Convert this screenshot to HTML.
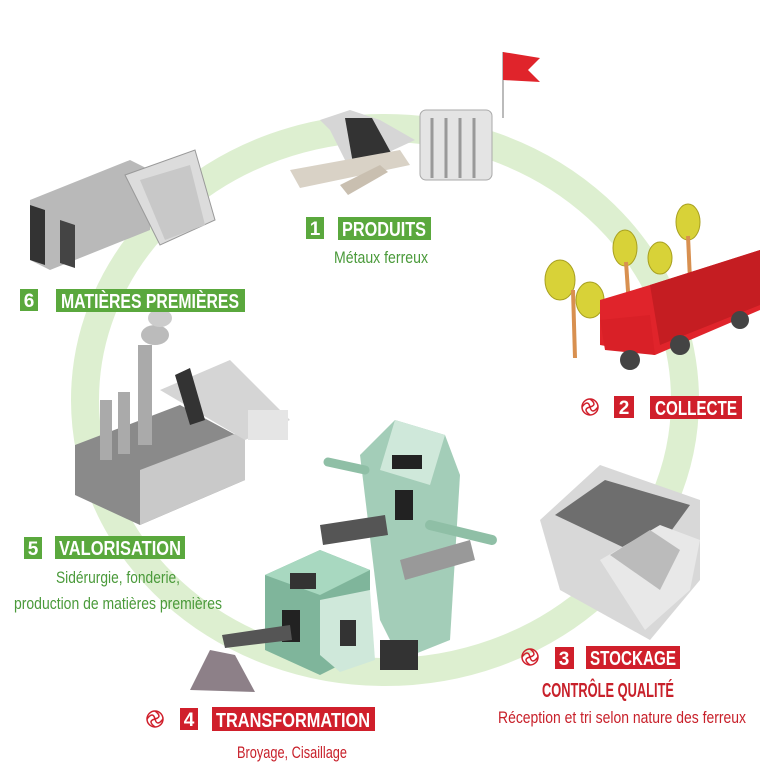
<!DOCTYPE html>
<html><head><meta charset="utf-8"><style>
html,body{margin:0;padding:0;background:#fff;}
svg{display:block}
text{font-family:"Liberation Sans",sans-serif}
</style></head><body>
<svg width="768" height="768" viewBox="0 0 768 768" xmlns="http://www.w3.org/2000/svg">
<rect width="768" height="768" fill="#fff"/>
<!-- ring -->
<ellipse cx="385" cy="400" rx="300" ry="272" fill="none" stroke="#ddefd0" stroke-width="28"/>
<rect x="250" y="0" width="260" height="112" fill="#fff"/>

<!-- flag -->
<line x1="503" y1="52" x2="503" y2="118" stroke="#bbb" stroke-width="2"/>
<path d="M503 52 L540 58 L528 70 L540 82 L503 80 Z" fill="#e0242b"/>

<!-- products illustration -->
<path d="M320 120 L350 110 L380 120 L415 140 L350 170 L330 130 Z" fill="#d6d6d6"/>
<path d="M345 118 L372 118 L395 160 L355 175 Z" fill="#333"/>
<path d="M290 170 L400 150 L410 165 L300 188 Z" fill="#d9d2c6"/>
<path d="M340 185 L380 165 L388 172 L348 195 Z" fill="#c9bfb0"/>
<rect x="420" y="110" width="72" height="70" rx="6" fill="#e4e4e4" stroke="#aaa"/>
<g stroke="#999" stroke-width="3"><line x1="432" y1="118" x2="432" y2="178"/><line x1="446" y1="118" x2="446" y2="178"/><line x1="460" y1="118" x2="460" y2="178"/><line x1="474" y1="118" x2="474" y2="178"/></g>

<!-- beams (6) -->
<path d="M30 200 L130 160 L150 170 L150 230 L50 270 L30 260 Z" fill="#b9b9b9"/>
<path d="M30 205 L45 210 L45 265 L30 260 Z" fill="#333"/>
<path d="M60 220 L75 225 L75 268 L60 263 Z" fill="#444"/>
<path d="M125 175 L195 150 L215 220 L160 245 Z" fill="#dcdcdc" stroke="#999"/>
<path d="M140 180 L190 165 L205 225 L165 240 Z" fill="#c8c8c8"/>

<!-- truck + trees -->
<g fill="#d8d238" stroke="#a8a020"><ellipse cx="560" cy="280" rx="15" ry="20"/><ellipse cx="590" cy="300" rx="14" ry="18"/><ellipse cx="625" cy="248" rx="12" ry="18"/><ellipse cx="660" cy="258" rx="12" ry="16"/><ellipse cx="688" cy="222" rx="12" ry="18"/></g>
<g stroke="#d89050" stroke-width="4"><line x1="573" y1="290" x2="575" y2="358"/><line x1="626" y1="262" x2="630" y2="320"/><line x1="688" y1="236" x2="690" y2="280"/></g>
<path d="M600 300 L650 285 L760 250 L760 310 L655 355 L600 345 Z" fill="#e0242b"/>
<path d="M650 285 L760 250 L760 305 L660 345 Z" fill="#c51d22"/>
<path d="M600 320 L650 315 L655 355 L605 350 Z" fill="#d92027"/>
<circle cx="630" cy="360" r="10" fill="#444"/><circle cx="680" cy="345" r="10" fill="#444"/><circle cx="740" cy="320" r="9" fill="#444"/>

<!-- factory 5 -->
<path d="M75 445 L180 405 L245 440 L245 480 L140 525 L75 495 Z" fill="#8a8a8a"/>
<path d="M140 470 L245 430 L245 480 L140 525 Z" fill="#c9c9c9"/>
<rect x="100" y="400" width="12" height="60" fill="#aaa"/><rect x="118" y="392" width="12" height="62" fill="#aaa"/><rect x="138" y="345" width="14" height="100" fill="#aaa"/>
<ellipse cx="155" cy="335" rx="14" ry="10" fill="#bbb"/><ellipse cx="160" cy="318" rx="12" ry="9" fill="#ccc"/>
<path d="M160 390 L230 360 L290 420 L245 440 Z" fill="#d5d5d5"/>
<path d="M175 375 L190 368 L205 420 L190 425 Z" fill="#333"/>
<rect x="248" y="410" width="40" height="30" fill="#e5e5e5"/>

<!-- storage 3 -->
<path d="M540 520 L600 465 L700 500 L700 580 L650 640 L560 590 Z" fill="#d8d8d8"/>
<path d="M555 515 L605 480 L690 505 L650 560 Z" fill="#6e6e6e"/>
<path d="M600 560 L660 525 L700 540 L690 590 L645 630 Z" fill="#e8e8e8"/>
<path d="M610 555 L650 530 L680 550 L660 590 Z" fill="#bbb"/>

<!-- machine 4 -->
<path d="M360 455 L395 420 L445 435 L460 475 L450 640 L400 660 L380 620 Z" fill="#a3cdb8"/>
<path d="M395 420 L445 435 L430 485 L380 470 Z" fill="#cfe8da"/>
<rect x="392" y="455" width="30" height="14" fill="#222"/>
<rect x="395" y="490" width="18" height="30" fill="#222"/>
<path d="M265 575 L320 550 L370 570 L370 650 L320 675 L265 650 Z" fill="#7fb59b"/>
<path d="M265 575 L320 550 L370 570 L320 595 Z" fill="#a8d8c0"/>
<rect x="290" y="573" width="26" height="16" fill="#333"/>
<rect x="282" y="610" width="18" height="32" fill="#222"/>
<path d="M320 600 L370 590 L375 660 L340 672 L320 655 Z" fill="#cfe8da"/>
<rect x="340" y="620" width="16" height="26" fill="#333"/>
<rect x="380" y="640" width="38" height="30" fill="#333"/>
<path d="M320 525 L385 515 L388 535 L323 545 Z" fill="#555"/>
<path d="M222 635 L290 625 L292 640 L225 648 Z" fill="#555"/>
<line x1="430" y1="525" x2="492" y2="540" stroke="#8fbfa6" stroke-width="10" stroke-linecap="round"/>
<line x1="328" y1="462" x2="365" y2="470" stroke="#8fbfa6" stroke-width="9" stroke-linecap="round"/>
<path d="M190 690 L210 650 L235 655 L255 692 Z" fill="#8d8088"/>
<path d="M400 560 L470 540 L475 560 L405 580 Z" fill="#999"/>

<!-- labels -->
<g font-weight="bold">
<rect x="306" y="217" width="18" height="22" fill="#5aa83d"/>
<text x="315" y="235" fill="#fff" font-size="19" text-anchor="middle">1</text>
<rect x="338" y="217" width="93" height="23" fill="#5aa83d"/>
<text x="384" y="236" fill="#fff" font-size="20" text-anchor="middle" textLength="84" lengthAdjust="spacingAndGlyphs">PRODUITS</text>
<rect x="20" y="289" width="18" height="22" fill="#5aa83d"/>
<text x="29" y="307" fill="#fff" font-size="19" text-anchor="middle">6</text>
<rect x="56" y="289" width="189" height="23" fill="#5aa83d"/>
<text x="150" y="308" fill="#fff" font-size="20" text-anchor="middle" textLength="178" lengthAdjust="spacingAndGlyphs">MATIÈRES PREMIÈRES</text>
<rect x="24" y="537" width="18" height="22" fill="#5aa83d"/>
<text x="33" y="555" fill="#fff" font-size="19" text-anchor="middle">5</text>
<rect x="55" y="536" width="130" height="23" fill="#5aa83d"/>
<text x="120" y="555" fill="#fff" font-size="20" text-anchor="middle" textLength="122" lengthAdjust="spacingAndGlyphs">VALORISATION</text>
<rect x="614" y="396" width="20" height="22" fill="#d01f2b"/>
<text x="624" y="414" fill="#fff" font-size="19" text-anchor="middle">2</text>
<rect x="650" y="396" width="92" height="23" fill="#d01f2b"/>
<text x="696" y="415" fill="#fff" font-size="20" text-anchor="middle" textLength="82" lengthAdjust="spacingAndGlyphs">COLLECTE</text>
<rect x="555" y="647" width="19" height="22" fill="#d01f2b"/>
<text x="564" y="665" fill="#fff" font-size="19" text-anchor="middle">3</text>
<rect x="586" y="646" width="94" height="23" fill="#d01f2b"/>
<text x="633" y="665" fill="#fff" font-size="20" text-anchor="middle" textLength="86" lengthAdjust="spacingAndGlyphs">STOCKAGE</text>
<text x="608" y="697" fill="#c8202a" font-size="20" text-anchor="middle" textLength="132" lengthAdjust="spacingAndGlyphs">CONTRÔLE QUALITÉ</text>
<rect x="180" y="708" width="18" height="22" fill="#d01f2b"/>
<text x="189" y="726" fill="#fff" font-size="19" text-anchor="middle">4</text>
<rect x="212" y="707" width="163" height="24" fill="#d01f2b"/>
<text x="293" y="727" fill="#fff" font-size="20" text-anchor="middle" textLength="154" lengthAdjust="spacingAndGlyphs">TRANSFORMATION</text>
</g>
<g font-size="17">
<text x="381" y="263" fill="#4a9a3a" text-anchor="middle" textLength="94" lengthAdjust="spacingAndGlyphs">Métaux ferreux</text>
<text x="118" y="583" fill="#4a9a3a" text-anchor="middle" textLength="124" lengthAdjust="spacingAndGlyphs">Sidérurgie, fonderie,</text>
<text x="118" y="609" fill="#4a9a3a" text-anchor="middle" textLength="208" lengthAdjust="spacingAndGlyphs">production de matières premières</text>
<text x="622" y="723" fill="#c8202a" text-anchor="middle" textLength="248" lengthAdjust="spacingAndGlyphs">Réception et tri selon nature des ferreux</text>
<text x="292" y="758" fill="#c8202a" text-anchor="middle" textLength="110" lengthAdjust="spacingAndGlyphs">Broyage, Cisaillage</text>
</g>
<g fill="none" stroke="#d01f2b" stroke-width="1.5">
<circle cx="590" cy="407" r="8"/><path d="M590 399 Q598 405 590 407 M598 407 Q592 415 590 407 M590 415 Q582 409 590 407 M582 407 Q588 399 590 407"/>
<circle cx="530" cy="657" r="8"/><path d="M530 649 Q538 655 530 657 M538 657 Q532 665 530 657 M530 665 Q522 659 530 657 M522 657 Q528 649 530 657"/>
<circle cx="155" cy="719" r="8"/><path d="M155 711 Q163 717 155 719 M163 719 Q157 727 155 719 M155 727 Q147 721 155 719 M147 719 Q153 711 155 719"/>
</g>
</svg>
</body></html>
